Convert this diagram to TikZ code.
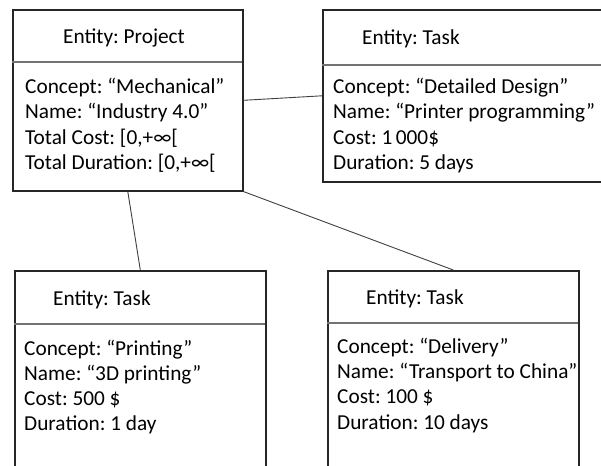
\documentclass[tikz,border=0pt]{standalone}
\usepackage{fontspec}
\setmainfont{Carlito}
\frenchspacing
\begin{document}
\begin{tikzpicture}[x=1pt,y=-1pt,
  box/.style={draw=black!85, line width=1.6pt, rectangle, inner sep=0pt, anchor=north west},
  div/.style={draw=black!55, line width=1.2pt},
  link/.style={draw=black!75, line width=0.9pt},
  txt/.style={anchor=base west, inner sep=0pt, font=\fontsize{21.3}{25}\selectfont\frenchspacing},
  ttl/.style={anchor=base west, inner sep=0pt, font=\fontsize{21.3}{25}\selectfont\frenchspacing}]
\useasboundingbox (0,0) rectangle (601,465);
\clip (0,0) rectangle (601,465);
\fill[white] (0,0) rectangle (601,465);
% boxes
\node[box, minimum width=230pt, minimum height=181pt] (p) at (12,9) {};
\node[box, minimum width=280pt, minimum height=172pt] (t) at (322,9) {};
\node[box, minimum width=251pt, minimum height=210pt] (bl) at (14,270) {};
\node[box, minimum width=251pt, minimum height=210pt] (br) at (327,270) {};
% dividers
\draw[div] (p.north west) ++(0,53) -- ++(230,0);
\draw[div] (t.north west) ++(0,56) -- ++(280,0);
\draw[div] (bl.north west) ++(0,54) -- ++(251,0);
\draw[div] (br.north west) ++(0,53) -- ++(251,0);
% connectors
\draw[link] (p.east) -- (t.west);
\draw[link] (p.south) -- (bl.north);
\draw[link] (p.south east) -- (br.north);
% project
\node[ttl, anchor=base] (p0) at (124,44) {Entity: Project};
\node[txt] (p1) at (25,94) {Concept: “Mechanical”};
\node[txt] (p2) at (25,119) {Name: “Industry 4.0”};
\node[txt] (p3) at (25,144) {Total Cost: [0,+∞[};
\node[txt] (p4) at (25,169.5) {Total Duration: [0,+∞[};
% top right
\node[ttl] (t0) at (362,45) {Entity: Task};
\node[txt] (t1) at (333,94) {Concept: “Detailed Design”};
\node[txt] (t2) at (333,119) {Name: “Printer programming”};
\node[txt] (t3) at (333,144) {Cost: 1\,000\$};
\node[txt] (t4) at (333,169) {Duration: 5 days};
% bottom left
\node[ttl] (b0) at (53,305) {Entity: Task};
\node[txt] (b1) at (24,355) {Concept: “Printing”};
\node[txt] (b2) at (24,380) {Name: “3D printing”};
\node[txt] (b3) at (24,405) {Cost: 500 \$};
\node[txt] (b4) at (24,430) {Duration: 1 day};
% bottom right
\node[ttl] (r0) at (366,304) {Entity: Task};
\node[txt] (r1) at (337,353.5) {Concept: “Delivery”};
\node[txt] (r2) at (337,378.5) {Name: “Transport to China”};
\node[txt] (r3) at (337,403.5) {Cost: 100 \$};
\node[txt] (r4) at (337,429) {Duration: 10 days};
\end{tikzpicture}
\end{document}
